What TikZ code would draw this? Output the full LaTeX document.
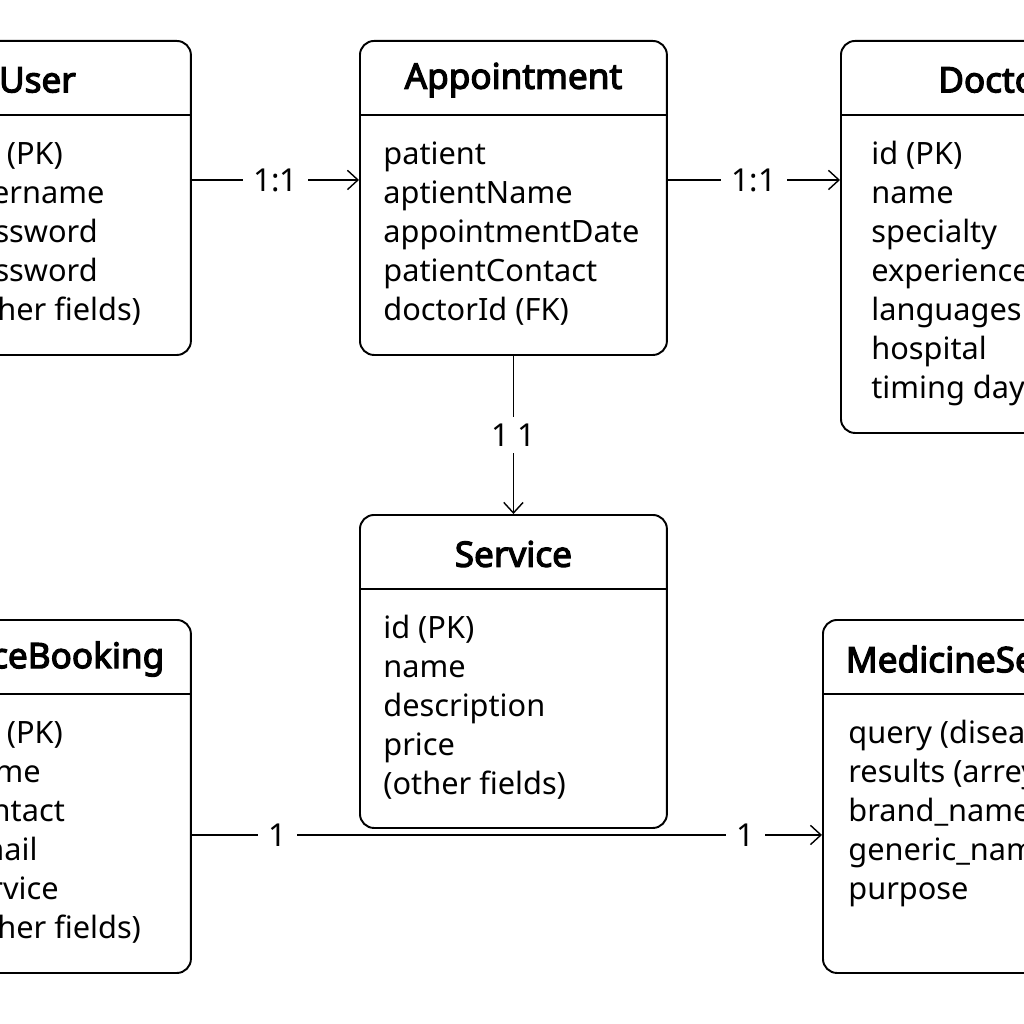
\documentclass[tikz,border=0pt]{standalone}
\usepackage{fontspec}
\setmainfont{Noto Sans}[AutoFakeBold=3.4]
\usetikzlibrary{arrows.meta,calc}
\tikzset{
  box/.style={draw=black, line width=1.1pt, rounded corners=8pt, inner sep=0pt, minimum width=6.14cm},
  sep/.style={line width=0.9pt},
  ttl/.style={font=\fontsize{20}{22}\selectfont\bfseries, inner sep=0pt},
  fld/.style={font=\fontsize{17.5}{22}\selectfont, inner sep=0pt},
  lbl/.style={font=\fontsize{18}{22}\selectfont, fill=white, inner xsep=6pt, inner ysep=4pt},
  link/.style={-{Straight Barb[length=6pt, width=11pt]}, line width=0.8pt},
}
% name, left, top, height, inset, title, fields
\newcommand{\entity}[7]{%
  \node[box, minimum height={#4*0.02cm}, anchor=north west] (#1) at (#2,#3) {};
  \draw[sep] ($(#1.north west)+(0,75)$) -- ($(#1.north east)+(0,75)$);
  \node[ttl] (#1-t) at ($(#1.north)+(0,40)$) {#6};
  \foreach \f [count=\i] in {#7}
    \node[fld, anchor=base west] (#1-f\i) at ($(#1.north west)+(#5,{124+(\i-1)*39})$) {\f};}

\begin{document}
\begin{tikzpicture}[x=0.02cm, y=-0.02cm]
  \useasboundingbox (0,0) rectangle (1024,1024);
  \clip (0,0) rectangle (1024,1024);
  \fill[white] (0,0) rectangle (1024,1024);
  \entity{user}{-117}{40}{314}{75}{User}{\_id (PK), username, password, password, (other fields)}
  \entity{appt}{359}{40}{314}{24}{Appointment}{patient, aptientName, appointmentDate, patientContact, doctorId (FK)}
  \entity{doc}{840}{40}{392}{31}{Doctor}{id (PK), name, specialty, experience, languages, hospital, timing days}
  \entity{svc}{359}{514}{313}{24}{Service}{id (PK), name, description, price, (other fields)}
  \entity{book}{-117}{619}{353}{75}{ServiceBooking}{\_id (PK), name, contact, email, service, (other fields)}
  \entity{med}{822}{619}{353}{26}{MedicineSearch}{query (disease), results (arrey), brand\_name, generic\_name, purpose}
  \draw[link] ([yshift=-2.8cm]user.north east) -- node[lbl] {1:1} ([yshift=-2.8cm]appt.north west);
  \draw[link] ([yshift=-2.8cm]appt.north east) -- node[lbl] {1:1} ([yshift=-2.8cm]doc.north west);
  \draw[link] (appt.south) -- node[lbl, inner xsep=2pt] {1 1} (svc.north);
  \draw[link] ([yshift=-4.32cm]book.north east) -- node[lbl, pos=0.136] {1} node[lbl, pos=0.878] {1} ([yshift=-4.32cm]med.north west);
\end{tikzpicture}
\end{document}
